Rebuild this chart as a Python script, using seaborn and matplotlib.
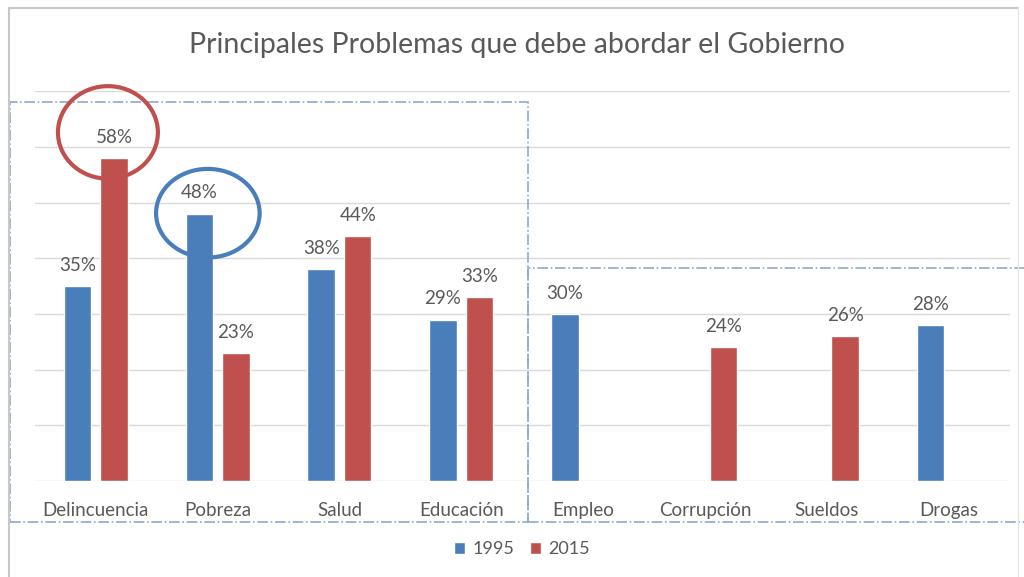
import numpy as np
import pandas as pd
import matplotlib
matplotlib.use("Agg")
import matplotlib.pyplot as plt
import seaborn as sns
from matplotlib.patches import Ellipse, Rectangle

categorias = ["Delincuencia", "Pobreza", "Salud", "Educación",
              "Empleo", "Corrupción", "Sueldos", "Drogas"]
v1995 = [35, 48, 38, 29, 30, np.nan, np.nan, 28]
v2015 = [58, 23, 44, 33, np.nan, 24, 26, np.nan]
anios = ["1995", "2015"]

df = pd.DataFrame({
    "cat": categorias * 2,
    "anio": [anios[0]] * len(categorias) + [anios[1]] * len(categorias),
    "val": v1995 + v2015,
})

sns.set_theme(style="white")
plt.rcParams["font.family"] = ["Lato", "DejaVu Sans"]
gris = "#595959"
colores = {"1995": "#4a7ebb", "2015": "#c0504d"}

fig = plt.figure(figsize=(10.24, 5.77), dpi=100)
ax = fig.add_axes([0.034, 0.166, 0.952, 0.676])

sns.barplot(data=df, x="cat", y="val", hue="anio", palette=colores,
            width=0.6, gap=0.25, ax=ax, saturation=1)

ax.set_ylim(0, 70)
ax.set_xlim(-0.5, len(categorias) - 0.5)
ax.set_yticks(range(0, 71, 10))
ax.set_yticklabels([])
ax.tick_params(axis="y", length=0)
ax.tick_params(axis="x", length=0, labelsize=13.5, labelcolor=gris, pad=15)
ax.yaxis.grid(True, color="#d9d9d9", linewidth=1)
ax.set_axisbelow(True)
for s in ax.spines.values():
    s.set_visible(False)
ax.set_xlabel("")
ax.set_ylabel("")

for cont in ax.containers:
    labs = ["" if np.isnan(v) else f"{v:.0f}%" for v in cont.datavalues]
    ax.bar_label(cont, labels=labs, padding=9, fontsize=13.5, color=gris)

leg = ax.legend(loc="center", bbox_to_anchor=(0.5, -0.175), ncol=2,
                frameon=False, fontsize=13, handlelength=0.6, handleheight=0.6,
                columnspacing=0.9, handletextpad=0.4)
for t in leg.get_texts():
    t.set_color(gris)

fig.text(0.505, 0.922, "Principales Problemas que debe abordar el Gobierno",
         ha="center", va="center", fontsize=20.5, color=gris)

# circulos de resaltado
ax.add_patch(Ellipse((0.10, 62.6), 0.82, 16.6, fill=False,
                     edgecolor="#c0504d", linewidth=3, clip_on=False, zorder=5))
ax.add_patch(Ellipse((0.92, 48.1), 0.85, 15.9, fill=False,
                     edgecolor="#4a7ebb", linewidth=3, clip_on=False, zorder=5))

# recuadros punteados
caja = "#8eaacb"
ax.add_patch(Rectangle((-0.7, -7.4), 4.25, 75.4, fill=False, edgecolor=caja,
                       linestyle="-.", linewidth=1.2, clip_on=False))
ax.add_patch(Rectangle((3.55, -7.4), 4.2, 45.6, fill=False, edgecolor=caja,
                       linestyle="-.", linewidth=1.2, clip_on=False))

# borde exterior
fig.add_artist(plt.Line2D([0.009, 0.009], [0.0, 0.986], color="#c8c8c8",
                          linewidth=1.5, transform=fig.transFigure))
fig.add_artist(plt.Line2D([0.009, 0.994], [0.986, 0.986], color="#c8c8c8",
                          linewidth=1.5, transform=fig.transFigure))
fig.add_artist(plt.Line2D([0.994, 0.994], [0.0, 0.986], color="#e6e6e6",
                          linewidth=1, transform=fig.transFigure))

fig.savefig("out.png", dpi=100)
